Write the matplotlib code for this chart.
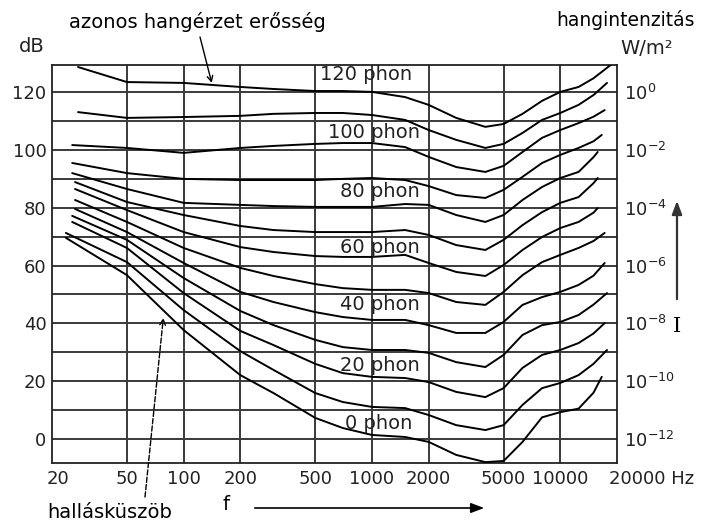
import matplotlib
matplotlib.use("Agg")
import matplotlib.pyplot as plt
import matplotlib.transforms as mtransforms
from matplotlib.patches import FancyArrowPatch

# equal-loudness contours, values (dB at each frequency)
phon_levels = [0, 10, 20, 30, 40, 50, 60, 70, 80, 90, 100, 110, 120]
freq_hz = [50, 100, 200, 300, 500, 700, 1000, 1500, 2000, 2800, 4000, 5000, 6300, 8000, 10000, 12500, 15000]

start_hz = [23.7, 23.7, 25.6, 25.6, 26.5, 26.5, 26.5, 26.5, 25.6, 25.6, 25.6, 27.5, 27.5]
start_db = [69.6, 71.3, 75.1, 77.2, 79.6, 82.7, 86.5, 88.9, 92.0, 95.5, 101.7, 113.1, 128.7]
end_hz = [16600, 17700, 17200, 17700, 17200, 17200, 15800, 15800, 15800, 16600, 17200, 17700, 18500]
end_db = [21.5, 30.8, 40.1, 50.5, 60.9, 71.3, 79.9, 90.3, 99.3, 105.2, 113.8, 123.2, 129.4]

contour_db = [
    [56.7, 37.7, 22.1, 15.9, 7.3, 3.8, 1.4, 0.7, -1.0, -5.5, -8.0, -7.6, -1.0, 7.5, 9.3, 10.5, 16.0],
    [61.2, 44.6, 30.4, 23.9, 15.9, 12.8, 11.1, 10.7, 8.3, 4.8, 3.1, 4.8, 11.8, 17.6, 19.4, 22.1, 26.0],
    [66.1, 50.5, 37.4, 32.5, 26.0, 22.8, 21.5, 21.1, 19.7, 16.3, 14.5, 17.6, 24.6, 29.1, 30.8, 33.2, 36.5],
    [68.9, 55.7, 44.3, 39.4, 34.3, 31.8, 30.8, 30.8, 29.8, 26.6, 24.9, 29.1, 36.0, 39.4, 40.5, 42.9, 46.5],
    [71.6, 60.9, 50.9, 47.4, 43.9, 42.2, 41.2, 41.2, 39.4, 36.7, 36.7, 40.5, 46.4, 49.1, 50.9, 53.3, 56.5],
    [75.1, 66.1, 59.2, 56.4, 53.6, 52.2, 51.6, 51.6, 50.5, 47.4, 46.4, 50.9, 56.7, 61.2, 63.7, 66.1, 68.5],
    [79.2, 71.6, 66.4, 64.7, 63.3, 63.0, 63.0, 63.7, 60.9, 57.8, 56.4, 60.2, 65.4, 69.9, 73.0, 75.1, 78.3],
    [82.0, 77.5, 73.7, 72.3, 71.6, 71.6, 71.6, 72.3, 70.6, 67.1, 65.4, 68.9, 74.0, 78.5, 81.7, 83.7, 88.5],
    [86.5, 81.7, 81.0, 80.6, 80.3, 80.3, 80.3, 81.3, 81.0, 77.5, 75.1, 77.5, 82.7, 87.2, 90.3, 92.4, 97.5],
    [92.0, 90.0, 89.6, 89.6, 89.6, 90.0, 90.3, 89.6, 87.5, 84.4, 83.4, 86.2, 90.7, 95.5, 98.3, 100.7, 103.0],
    [100.7, 99.0, 100.7, 101.4, 102.1, 102.4, 102.4, 101.0, 97.6, 94.1, 92.4, 94.5, 99.3, 104.2, 106.9, 109.3, 111.5],
    [111.1, 111.4, 111.8, 112.5, 112.8, 112.8, 112.1, 110.4, 106.9, 103.5, 100.7, 102.1, 105.9, 110.4, 112.8, 115.6, 119.0],
    [123.5, 123.2, 121.8, 121.1, 120.4, 120.4, 120.1, 118.3, 115.6, 111.1, 108.0, 109.0, 112.5, 117.0, 120.1, 121.8, 124.8],
]

label_levels = [0, 20, 40, 60, 80, 100, 120]
label_db = [5.2, 25.3, 46.4, 66.4, 85.8, 105.9, 126.0]
label_hz = [1630, 1800, 1800, 1800, 1800, 1800, 1630]

x_ticks = [20, 50, 100, 200, 500, 1000, 2000, 5000, 10000, 20000]
x_ticklabels = ["20", "50", "100", "200", "500", "1000", "2000", "5000", "10000", "20000 Hz"]
db_ticks = [0, 20, 40, 60, 80, 100, 120]
intensity_labels = [r"$10^{-12}$", r"$10^{-10}$", r"$10^{-8}$", r"$10^{-6}$",
                    r"$10^{-4}$", r"$10^{-2}$", r"$10^{0}$"]

W, H = 704, 525


def fx(px):
    return px / W


def fy(py):
    return 1 - py / H


plt.rcParams["font.family"] = ["DejaVu Sans"]
fig = plt.figure(figsize=(W / 100, H / 100), dpi=100)
ax = fig.add_axes([fx(52), fy(463), fx(617) - fx(52), fy(65) - fy(463)])

ax.set_xscale("log")
ax.set_xlim(20, 20000)
ax.set_ylim(-8.3, 129.4)

for f in x_ticks[1:-1]:
    ax.axvline(f, color="#3a3a3a", lw=1.4, zorder=1)
for d in range(0, 130, 10):
    ax.axhline(d, color="#3a3a3a", lw=1.4, zorder=1)

for i in range(len(phon_levels)):
    xs = [start_hz[i]] + freq_hz + [end_hz[i]]
    ys = [start_db[i]] + contour_db[i] + [end_db[i]]
    ax.plot(xs, ys, color="black", lw=1.4, zorder=3,
            solid_capstyle="round", solid_joinstyle="round")

for lv, d, hz in zip(label_levels, label_db, label_hz):
    ax.text(hz, d, f"{lv} phon", ha="right", va="center", fontsize=14,
            color="#222222", zorder=4)

ax.set_xticks(x_ticks)
ax.set_xticklabels(x_ticklabels)
ax.minorticks_off()
ax.set_yticks(db_ticks)
ax.tick_params(length=0, labelsize=13, colors="#222222")
ax.tick_params(axis="x", pad=5)
ax.tick_params(axis="y", pad=4)
for s in ax.spines.values():
    s.set_linewidth(1.3)
    s.set_color("#222222")

xl = ax.get_xticklabels()
xl[0].set_ha("left")
xl[0].set_transform(xl[0].get_transform() + mtransforms.ScaledTranslation(-5 / 100, 0, fig.dpi_scale_trans))
xl[-1].set_ha("left")
xl[-1].set_transform(xl[-1].get_transform() + mtransforms.ScaledTranslation(-8 / 100, 0, fig.dpi_scale_trans))

ax2 = ax.twinx()
ax2.set_ylim(ax.get_ylim())
ax2.set_yticks(db_ticks)
ax2.set_yticklabels(intensity_labels)
ax2.tick_params(length=0, labelsize=13, colors="#222222", pad=5)
for s in ax2.spines.values():
    s.set_visible(False)

# texts around the frame
fig.text(fx(32), fy(47), "dB", ha="center", va="center", fontsize=14, color="#222222")
fig.text(fx(197), fy(22), "azonos hangérzet erősség", ha="center", va="center", fontsize=14)
fig.text(fx(626), fy(20), "hangintenzitás", ha="center", va="center", fontsize=13.5)
fig.text(fx(647), fy(49), "W/m²", ha="center", va="center", fontsize=14, color="#222222")
fig.text(fx(110), fy(512), "hallásküszöb", ha="center", va="center", fontsize=14)
fig.text(fx(226), fy(505), "f", ha="center", va="center", fontsize=14)
fig.text(fx(677), fy(327), "I", ha="center", va="center", fontsize=15, family="DejaVu Serif")

ax.annotate("", xy=(141, 123.2), xycoords="data", xytext=(fx(200), fy(37)),
            textcoords="figure fraction",
            arrowprops=dict(arrowstyle="->", color="black", lw=1.0, shrinkA=0, shrinkB=0))
ax.annotate("", xy=(78, 41.9), xycoords="data", xytext=(fx(145), fy(497)),
            textcoords="figure fraction", annotation_clip=False,
            arrowprops=dict(arrowstyle="->", color="black", lw=1.0, ls="--",
                            shrinkA=0, shrinkB=0))
fig.add_artist(FancyArrowPatch(
    (fx(252), fy(508)), (fx(487), fy(508)), transform=fig.transFigure,
    arrowstyle="-|>,head_length=8,head_width=3", color="black", lw=1.2, mutation_scale=1))
fig.add_artist(FancyArrowPatch(
    (fx(677), fy(302)), (fx(677), fy(198)), transform=fig.transFigure,
    arrowstyle="-|>,head_length=8,head_width=3", color="#333333", lw=1.6, mutation_scale=1))

fig.savefig("out.png", dpi=100, facecolor="white")
